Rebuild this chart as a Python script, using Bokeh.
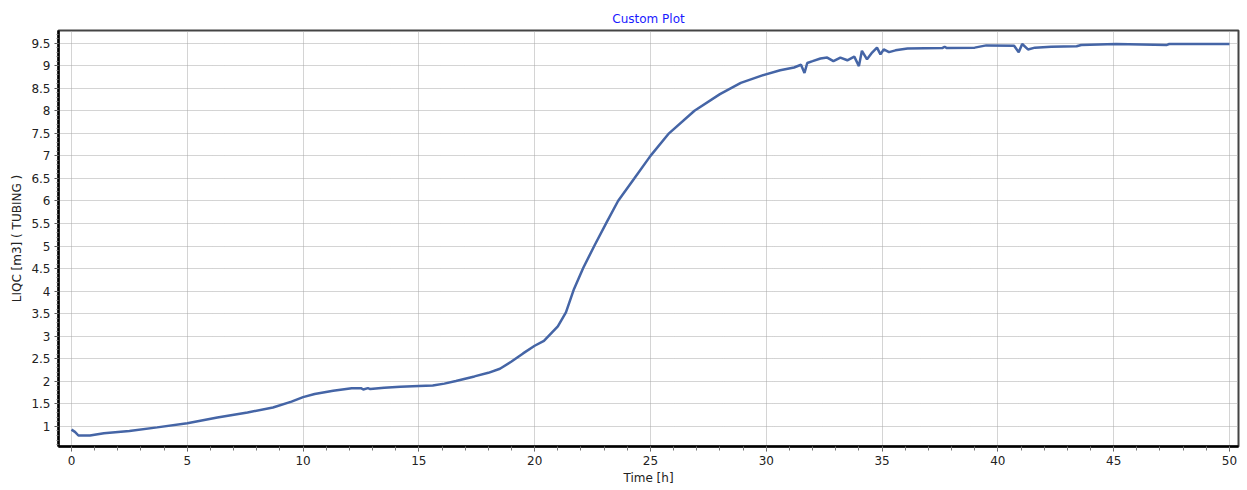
from bokeh.plotting import figure
from bokeh.models import Range1d, FixedTicker
from bokeh.embed import file_html
from bokeh.resources import INLINE

# Data
time_h = [0.0, 0.15, 0.3, 0.8, 1.4, 2.5, 3.7, 5.0, 6.3, 7.6, 8.7, 9.5, 10.0, 10.5,
          11.3, 12.1, 12.5, 12.6, 12.8, 12.9, 13.5, 14.2, 15.0, 15.6, 16.1, 16.6,
          17.4, 18.0, 18.5, 19.0, 19.5, 20.0, 20.4, 21.0, 21.35, 21.7, 22.1, 22.6,
          23.1, 23.6, 24.3, 25.0, 25.8, 26.9, 28.0, 28.9, 29.8, 30.6, 31.2, 31.5,
          31.65, 31.77, 32.0, 32.34, 32.63, 32.9, 33.2, 33.5, 33.8, 34.0, 34.13,
          34.35, 34.57, 34.78, 34.93, 35.07, 35.3, 35.58, 35.8, 36.1, 37.6, 37.7,
          37.8, 39.0, 39.5, 40.7, 40.9, 41.05, 41.3, 41.6, 42.3, 43.4, 43.6, 45.1,
          47.3, 47.4, 50.0]
liqc = [0.93, 0.88, 0.80, 0.80, 0.85, 0.90, 0.98, 1.07, 1.20, 1.31, 1.42, 1.55, 1.65, 1.72,
        1.79, 1.85, 1.85, 1.82, 1.85, 1.83, 1.86, 1.88, 1.90, 1.91, 1.95, 2.01,
        2.11, 2.19, 2.28, 2.44, 2.62, 2.79, 2.90, 3.22, 3.53, 4.05, 4.52, 5.03,
        5.52, 6.00, 6.50, 7.00, 7.50, 8.00, 8.37, 8.62, 8.78, 8.90, 8.96, 9.02,
        8.84, 9.06, 9.10, 9.16, 9.18, 9.10, 9.18, 9.12, 9.20, 8.99, 9.33,
        9.14, 9.29, 9.40, 9.25, 9.36, 9.30, 9.34, 9.36, 9.38, 9.39, 9.42,
        9.39, 9.40, 9.45, 9.44, 9.30, 9.48, 9.36, 9.40, 9.42, 9.43, 9.46, 9.48,
        9.46, 9.48, 9.48]
x_ticks = [0, 5, 10, 15, 20, 25, 30, 35, 40, 45, 50]
y_ticks = [1, 1.5, 2, 2.5, 3, 3.5, 4, 4.5, 5, 5.5, 6, 6.5, 7, 7.5, 8, 8.5, 9, 9.5]

FONT = "DejaVu Sans"

p = figure(width=1247, height=490, output_backend="svg", toolbar_location=None,
           x_range=Range1d(-0.56, 50.39), y_range=Range1d(0.556, 9.78),
           title="Custom Plot",
           min_border_left=58, min_border_right=9, min_border_top=30, min_border_bottom=44)

p.title.align = "center"
p.title.text_color = "#1a1aff"
p.title.text_font = FONT
p.title.text_font_size = "12px"
p.title.text_font_style = "normal"
p.title.standoff = 10

p.line(time_h, liqc, line_color="#4565a6", line_width=2.5)

p.xaxis.ticker = FixedTicker(ticks=x_ticks, minor_ticks=list(range(0, 51)))
p.yaxis.ticker = FixedTicker(ticks=y_ticks,
                             minor_ticks=[round(0.6 + 0.1 * i, 1) for i in range(92)])

for ax in (p.xaxis[0], p.yaxis[0]):
    ax.axis_line_color = "black"
    ax.axis_line_width = 2.5
    ax.major_tick_line_color = "#555555"
    ax.minor_tick_line_color = "#777777"
    ax.major_tick_in = 0
    ax.minor_tick_in = 0
    ax.major_label_text_font = FONT
    ax.major_label_text_font_size = "12px"
    ax.major_label_text_color = "#222222"
    ax.axis_label_text_font = FONT
    ax.axis_label_text_font_size = "12px"
    ax.axis_label_text_font_style = "normal"
    ax.axis_label_text_color = "#222222"

p.xaxis.axis_label = "Time [h]"
p.yaxis.axis_label = "LIQC [m3] ( TUBING )"
p.xaxis.major_tick_out = 5
p.xaxis.minor_tick_out = 4
p.yaxis.major_tick_out = 4
p.yaxis.minor_tick_out = 2
p.xaxis.major_label_standoff = 4
p.yaxis.major_label_standoff = 4
p.xaxis.axis_label_standoff = 3
p.yaxis.axis_label_standoff = 4

p.xgrid.ticker = FixedTicker(ticks=x_ticks)
p.ygrid.ticker = FixedTicker(ticks=y_ticks)
for g in (p.xgrid[0], p.ygrid[0]):
    g.grid_line_color = "#a8a8a8"
    g.grid_line_dash = "1 1"
    g.grid_line_width = 1

p.outline_line_color = "#444444"
p.outline_line_width = 2
p.background_fill_color = "white"
p.border_fill_color = "white"

open("out.html", "w").write(file_html(p, INLINE))
